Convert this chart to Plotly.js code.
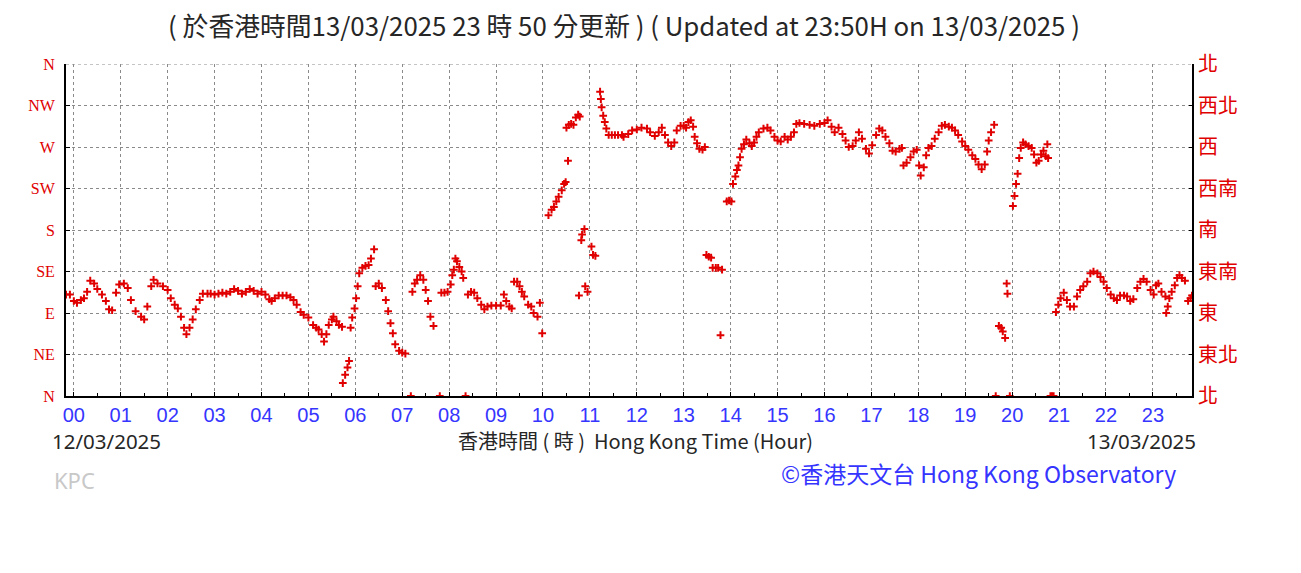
<!DOCTYPE html>
<html><head><meta charset="utf-8">
<script src="https://cdn.plot.ly/plotly-3.0.1.min.js"></script>
<style>html,body{margin:0;padding:0;background:#fff;} #chart{width:1301px;height:573px;}</style>
</head><body><div id="chart"></div>
<script>
// Wind direction (degrees) observed at KPC, time in minutes from 00:00 on 12/03/2025
const minutes = [
 -10,-5,0,4,9,13,17,21,26,30,36,41,45,49,54,58,64,69,73,79,86,90,94,99,102,107,114,120,124,129,133,137,141,144,148,152,156,161,165,171,
 175,180,185,190,195,200,205,210,215,220,225,230,235,240,245,250,253,257,262,267,272,277,281,285,290,294,300,306,310,313,317,320,323,326,330,332,336,339,343,
 344,347,350,352,
 354,356,359,361,363,365,369,373,377,380,384,
 386,390,394,399,402,405,408,411,416,420,424,
 431,
 433,436,439,443,447,450,453,456,460,
 468,
 470,474,478,482,484,486,488,490,493,496,498,
 501,
 504,508,512,516,521,525,529,534,540,546,550,553,557,560,563,567,570,573,576,581,585,588,593,596,599,
 607,611,614,617,620,624,627,629,
 630,632,633,636,639,642,645,647,
 646,649,650,653,654,657,662,664,667,
 673,674,675,677,679,681,684,688,692,696,701,703,709,714,
 720,726,733,737,743,748,752,756,760,764,768,771,776,780,783,786,789,792,794,797,800,804,807,
 809,812,815,817,821,824,827,829,
 835,838,841,
 843,846,848,850,852,854,857,860,864,867,870,873,876,882,887,891,896,900,904,909,913,917,921,924,928,934,941,947,954,
 960,964,969,973,978,983,987,991,996,1000,1004,1008,1013,1017,1021,1026,1030,1034,1038,1043,1047,1051,1056,1059,
 1061,1065,1070,1074,1078,1081,1083,1087,1090,1093,1097,1101,1106,1110,1114,1119,1123,1127,1131,1136,1140,1144,1149,1153,1157,1161,1165,1168,1170,1173,1177,
 1179,
 1183,1186,1188,1191,1193,1194,
 1197,
 1201,1203,1205,1207,1209,1211,1214,1217,1221,1225,1228,1231,1234,1237,1240,1243,1245,1246,
 1249,1251,1253,
 1256,1259,1262,1266,1270,1274,1279,1283,1287,1291,1296,1300,1304,1309,1313,1317,1321,1326,1330,1334,1338,1343,1347,1351,1355,1360,1364,1368,1372,1377,1381,1384,1387,1391,1396,1397,1399,1401,1404,1408,1411,1414,1417,1421,1425,1428,1430
];
const direction = [
 110,110,103,101,104,106,113,125,122,116,110,103,94,93,112,121,122,117,104,92,86,83,97,119,126,122,119,115,106,99,95,86,74,67,74,83,94,104,111,111,
 111,110,111,112,111,113,116,114,111,113,116,114,111,113,110,105,103,106,109,109,109,107,104,99,91,88,85,77,74,72,67,59,67,77,83,86,81,77,75,
 14,23,31,38,
 74,85,95,106,119,133,139,141,142,149,159,
 119,122,117,104,92,79,68,56,49,47,46,
 0,
 113,122,126,131,126,115,103,86,76,
 0,
 112,112,113,121,131,137,149,146,140,135,128,
 0,
 110,113,112,106,99,94,97,98,98,98,110,103,97,95,124,124,119,113,108,99,97,90,86,101,68,
 196,202,205,211,216,223,230,232,
 291,255,294,295,294,302,305,303,
 109,169,175,181,119,113,162,153,152,
 330,322,313,304,297,290,283,283,283,283,283,281,284,288,
 289,291,290,286,282,286,291,283,275,271,275,288,293,293,291,297,299,292,281,274,268,267,270,
 153,151,150,139,139,139,66,137,
 211,212,211,
 230,238,245,250,259,268,273,278,274,271,275,281,286,290,291,288,281,277,276,281,278,281,286,295,296,295,294,293,295,
 296,299,292,286,291,284,277,270,271,277,286,279,268,263,272,283,290,288,281,274,266,265,268,269,
 250,253,259,265,267,250,239,248,261,269,271,279,286,293,294,292,291,288,283,276,271,267,261,257,251,246,251,265,277,286,294,
 0,
 76,74,70,63,122,111,
 0,
 206,217,230,241,258,269,275,273,271,269,262,253,255,262,266,260,273,258,
 0,0,0,
 91,99,106,112,104,97,97,108,115,119,124,133,135,133,129,124,117,110,106,104,109,109,108,103,105,117,124,127,124,115,110,120,122,113,108,90,97,106,113,120,128,131,128,125,103,106,109
];
const hourTicks = [0,1,2,3,4,5,6,7,8,9,10,11,12,13,14,15,16,17,18,19,20,21,22,23];
const hourLabels = ["00","01","02","03","04","05","06","07","08","09","10","11","12","13","14","15","16","17","18","19","20","21","22","23"];
const dirTicks = [0,45,90,135,180,225,270,315,360];
const dirLabelsEn = ["N","NE","E","SE","S","SW","W","NW","N"];
const dirLabelsZh = ["北","東北","東","東南","南","西南","西","西北","北"];
const axisStartMin = -10, axisEndMin = 1430;

const red = '#e00000';
const blue = '#3535ff';
const hours = minutes.map(m => m / 60);

const traces = [
  {x: hours, y: direction, type: 'scatter', mode: 'markers', cliponaxis: true,
   marker: {symbol: 'cross-thin', size: 5.5, color: red, line: {color: red, width: 2}},
   showlegend: false, hoverinfo: 'skip'},
  {x: [null], y: [null], yaxis: 'y2', type: 'scatter', mode: 'markers', showlegend: false, hoverinfo: 'skip'}
];

const gridCol = '#8a8a8a';
const layout = {
  width: 1301, height: 573,
  paper_bgcolor: '#ffffff', plot_bgcolor: '#ffffff',
  margin: {l: 66, r: 109, t: 64, b: 177},
  title: {text: '( 於香港時間13/03/2025 23 時 50 分更新 ) ( Updated at 23:50H on 13/03/2025 )',
          x: 624/1301, xanchor: 'center', xref: 'container',
          y: 1 - 27/573, yanchor: 'middle', yref: 'container',
          font: {family: '"Noto Sans CJK TC", "Noto Sans", sans-serif', size: 25.8, color: '#262626'}},
  xaxis: {range: [axisStartMin/60, axisEndMin/60], tickmode: 'array', tickvals: hourTicks, ticktext: hourLabels,
          tickfont: {family: '"Liberation Sans", Arial, sans-serif', size: 20, color: blue},
          showgrid: true, gridcolor: gridCol, griddash: 'dot', gridwidth: 1,
          showline: true, linecolor: '#000', linewidth: 1.5,
          ticks: 'inside', ticklen: 4, tickcolor: '#000', zeroline: false,
          minor: {tick0: 0, dtick: 0.5, ticks: 'inside', ticklen: 3, tickcolor: '#000', showgrid: false},
          fixedrange: true},
  yaxis: {range: [0, 360], tickmode: 'array', tickvals: dirTicks, ticktext: dirLabelsEn,
          tickfont: {family: '"Liberation Serif", serif', size: 16, color: red},
          showgrid: true, gridcolor: gridCol, griddash: 'dot', gridwidth: 1,
          showline: true, linecolor: '#000', linewidth: 2,
          ticks: 'inside', ticklen: 4, tickcolor: '#000', zeroline: false, ticklabelstandoff: 6,
          fixedrange: true},
  yaxis2: {range: [0, 360], overlaying: 'y', side: 'right', tickmode: 'array', tickvals: dirTicks, ticktext: dirLabelsZh,
          tickfont: {family: '"Noto Sans CJK TC", sans-serif', size: 20, color: red},
          showgrid: false, showline: true, linecolor: '#000', linewidth: 2,
          ticks: 'inside', ticklen: 3, tickcolor: '#000', zeroline: false, fixedrange: true},
  shapes: [
    {type: 'line', xref: 'paper', yref: 'y', x0: 0, x1: 1, y0: 360, y1: 360,
     line: {color: gridCol, width: 1, dash: 'dot'}, layer: 'below'}
  ],
  annotations: [
    {text: '香港時間 ( 時 )  Hong Kong Time (Hour)', xref: 'paper', yref: 'paper', x: (635-66)/1125.7, y: (396-441)/332,
     xanchor: 'center', yanchor: 'middle', showarrow: false,
     font: {family: '"Noto Sans CJK TC", sans-serif', size: 20, color: '#262626'}},
    {text: '12/03/2025', xref: 'paper', yref: 'paper', x: (50-66)/1125.7, y: (396-441)/332,
     xanchor: 'left', yanchor: 'middle', showarrow: false,
     font: {family: '"Noto Sans", sans-serif', size: 20.5, color: '#262626'}},
    {text: '13/03/2025', xref: 'paper', yref: 'paper', x: (1198-66)/1125.7, y: (396-441)/332,
     xanchor: 'right', yanchor: 'middle', showarrow: false,
     font: {family: '"Noto Sans", sans-serif', size: 20.5, color: '#262626'}},
    {text: 'KPC', xref: 'paper', yref: 'paper', x: (52-66)/1125.7, y: (396-480)/332,
     xanchor: 'left', yanchor: 'middle', showarrow: false,
     font: {family: '"Noto Sans", sans-serif', size: 22, color: '#c8c8c8'}},
    {text: '©香港天文台 Hong Kong Observatory', xref: 'paper', yref: 'paper', x: (1178-66)/1125.7, y: (396-473)/332,
     xanchor: 'right', yanchor: 'middle', showarrow: false,
     font: {family: '"Noto Sans CJK TC", sans-serif', size: 23, color: blue}}
  ],
  hovermode: false
};

Plotly.newPlot('chart', traces, layout, {staticPlot: true, displayModeBar: false});
</script>
</body></html>
